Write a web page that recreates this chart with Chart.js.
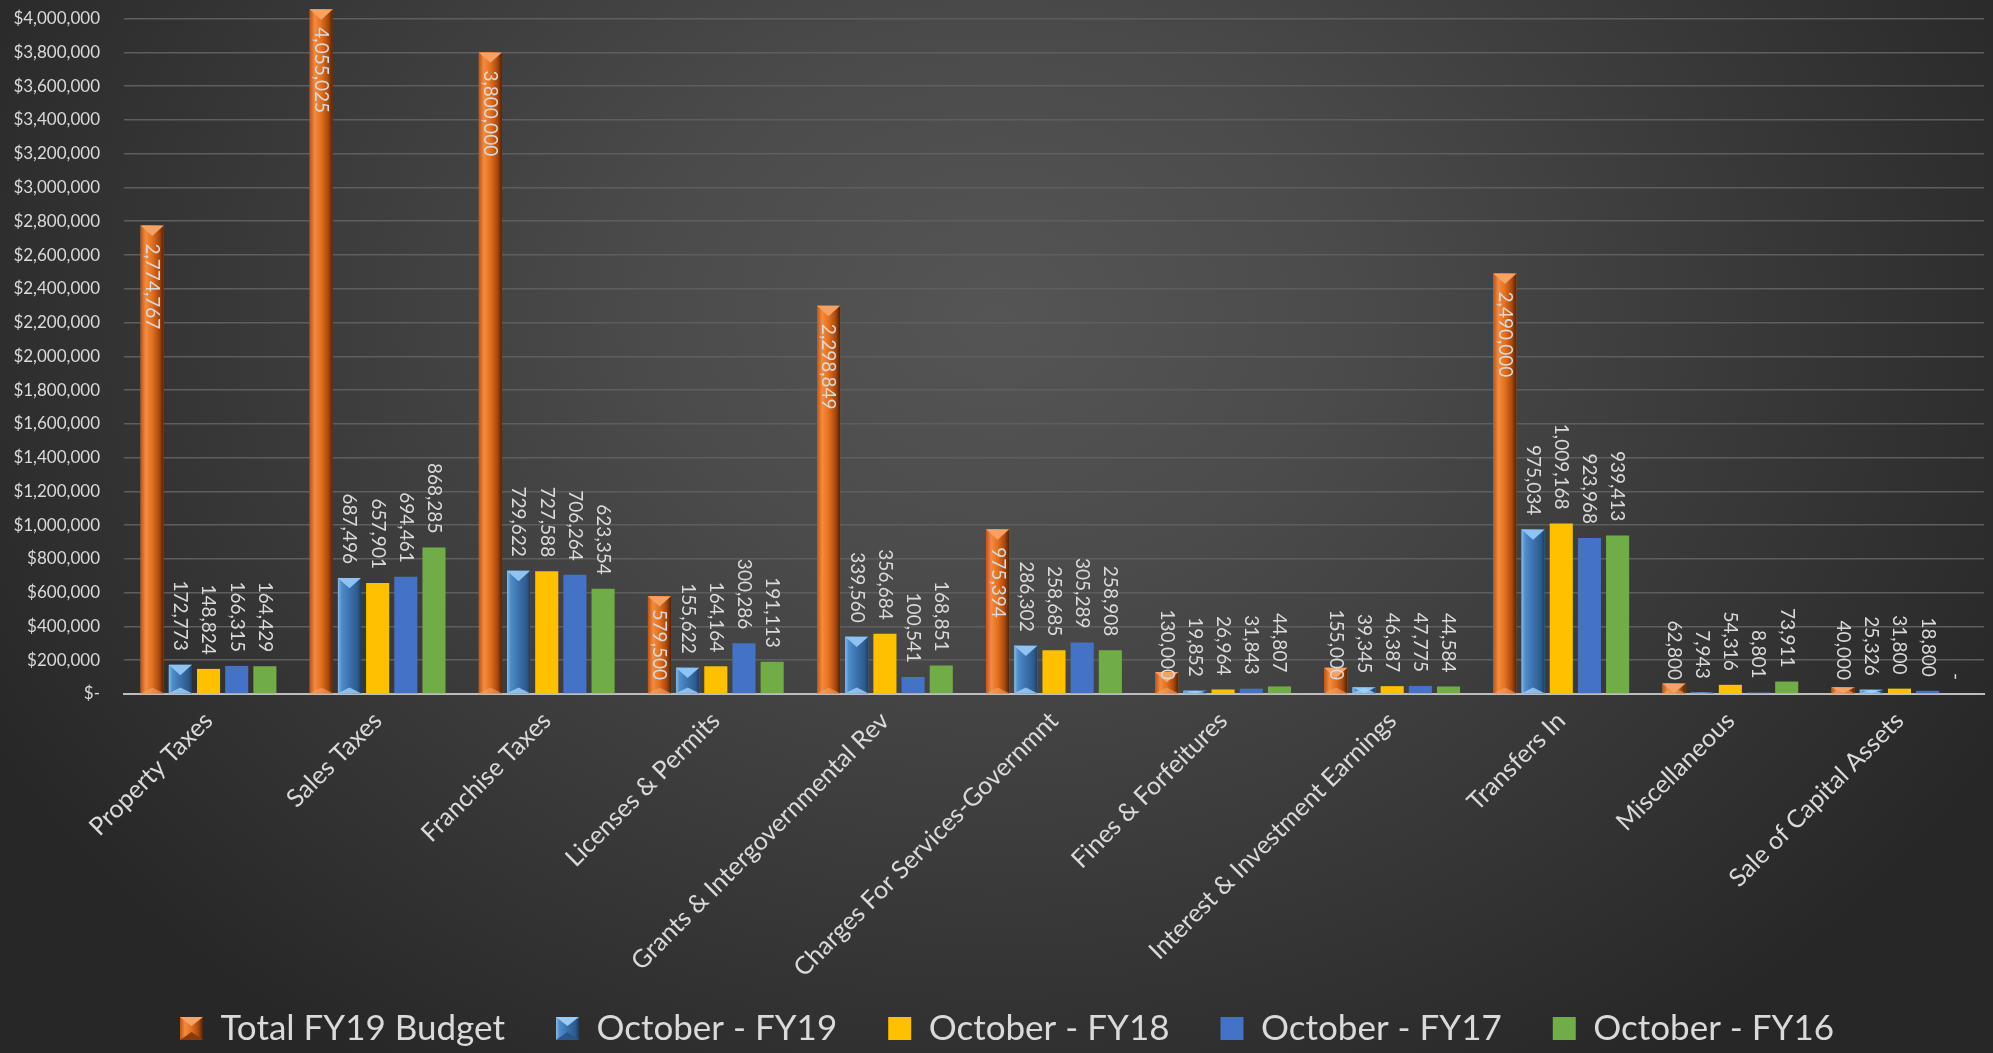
<!DOCTYPE html>
<html>
<head>
<meta charset="utf-8">
<script src="https://cdn.jsdelivr.net/npm/chart.js@4/dist/chart.umd.min.js"></script>
<style>
html, body { margin: 0; padding: 0; }
body {
    width: 1993px; height: 1053px; overflow: hidden;
    background: radial-gradient(ellipse 1150px 900px at 50% 30%, #555555 0%, #4b4b4b 30%, #393939 65%, #272727 100%);
}
#caixa { position: relative; width: 1993px; height: 1053px; }
</style>
</head>
<body>
<div id="caixa"><canvas id="grafico"></canvas></div>
<script>
// categorias e valores
const categorias = [
    'Property Taxes', 'Sales Taxes', 'Franchise Taxes', 'Licenses & Permits',
    'Grants & Intergovernmental Rev', 'Charges For Services-Governmnt', 'Fines & Forfeitures',
    'Interest & Investment Earnings', 'Transfers In', 'Miscellaneous', 'Sale of Capital Assets'
];
const totalFY19 = [2774767, 4055025, 3800000, 579500, 2298849, 975394, 130000, 155000, 2490000, 62800, 40000];
const outubroFY19 = [172773, 687496, 729622, 155622, 339560, 286302, 19852, 39345, 975034, 7943, 25326];
const outubroFY18 = [148824, 657901, 727588, 164164, 356684, 258685, 26964, 46387, 1009168, 54316, 31800];
const outubroFY17 = [166315, 694461, 706264, 300286, 100541, 305289, 31843, 47775, 923968, 8801, 18800];
const outubroFY16 = [164429, 868285, 623354, 191113, 168851, 258908, 44807, 44584, 939413, 73911, 0];

// marcas do eixo y
const ticksY = [0, 200000, 400000, 600000, 800000, 1000000, 1200000, 1400000, 1600000, 1800000, 2000000,
    2200000, 2400000, 2600000, 2800000, 3000000, 3200000, 3400000, 3600000, 3800000, 4000000];

const nomesSeries = ['Total FY19 Budget', 'October - FY19', 'October - FY18', 'October - FY17', 'October - FY16'];
const coresSeries = ['#ED7D31', '#5B9BD5', '#FFC000', '#4472C4', '#70AD47'];

const corTexto = '#dadada';
const fonte = 'Lato, "Open Sans", sans-serif';

// degradês das barras com chanfro
const degradeLaranja = [[0, '#b9561a'], [0.22, '#f38c40'], [0.5, '#e2701f'], [0.8, '#a9490f'], [1, '#4e2207']];
const degradeAzul = [[0, '#86bbea'], [0.15, '#4f8dca'], [0.5, '#3b72ad'], [0.85, '#2d5a8c'], [1, '#1d3c62']];

// icones da legenda para as duas series com chanfro
function criarIcone(paradas, corCima, corBaixo) {
    const c = document.createElement('canvas');
    c.width = 23; c.height = 23;
    const ctx = c.getContext('2d');
    const g = ctx.createLinearGradient(0, 0, 23, 0);
    paradas.forEach(p => g.addColorStop(p[0], p[1]));
    ctx.fillStyle = g;
    ctx.fillRect(0, 0, 23, 23);
    ctx.fillStyle = corCima;
    ctx.beginPath(); ctx.moveTo(0, 0); ctx.lineTo(23, 0); ctx.lineTo(11.5, 9); ctx.closePath(); ctx.fill();
    ctx.fillStyle = corBaixo;
    ctx.beginPath(); ctx.moveTo(0, 23); ctx.lineTo(23, 23); ctx.lineTo(11.5, 15); ctx.closePath(); ctx.fill();
    return c;
}
const iconeLaranja = criarIcone(degradeLaranja, '#f6a465', '#8a3a0c');
const iconeAzul = criarIcone(degradeAzul, '#9ccbf3', '#2b5788');

// sombreado "3D" das duas primeiras series (desenhado sobre as barras do proprio Chart.js)
const chanfro = {
    id: 'chanfro',
    afterDatasetsDraw(chart) {
        const ctx = chart.ctx;
        [0, 1].forEach(i => {
            const meta = chart.getDatasetMeta(i);
            meta.data.forEach(barra => {
                const larg = barra.width;
                const esq = barra.x - larg / 2;
                const dir = barra.x + larg / 2;
                const topo = barra.y;
                const alt = barra.base - barra.y;
                if (alt <= 0) return;
                ctx.save();
                const g = ctx.createLinearGradient(esq, 0, dir, 0);
                (i === 0 ? degradeLaranja : degradeAzul).forEach(p => g.addColorStop(p[0], p[1]));
                ctx.fillStyle = g;
                ctx.fillRect(esq, topo, larg, alt);
                // ponta superior
                const h = Math.min(alt, larg * 0.45);
                ctx.beginPath();
                ctx.moveTo(esq, topo);
                ctx.lineTo(dir, topo);
                ctx.lineTo(barra.x, topo + h);
                ctx.closePath();
                ctx.fillStyle = i === 0 ? '#f5a264' : '#8fc4f2';
                ctx.fill();
                // base clara
                const hb = Math.min(alt, larg * 0.25);
                ctx.beginPath();
                ctx.moveTo(esq, barra.base);
                ctx.lineTo(dir, barra.base);
                ctx.lineTo(barra.x, barra.base - hb);
                ctx.closePath();
                ctx.fillStyle = i === 0 ? 'rgba(245,162,100,0.6)' : 'rgba(160,210,250,0.8)';
                ctx.fill();
                ctx.restore();
            });
        });
    }
};

// rotulos de valor na vertical
const rotulos = {
    id: 'rotulos',
    afterDatasetsDraw(chart) {
        const ctx = chart.ctx;
        const base = chart.scales.y.getPixelForValue(0);
        ctx.save();
        ctx.font = '19px ' + fonte;
        ctx.fillStyle = corTexto;
        ctx.textBaseline = 'middle';
        ctx.textAlign = 'left';
        chart.data.datasets.forEach((ds, i) => {
            const meta = chart.getDatasetMeta(i);
            meta.data.forEach((barra, j) => {
                const v = ds.data[j];
                const txt = v === 0 ? '-' : v.toLocaleString('en-US');
                const w = ctx.measureText(txt).width;
                let inicio;
                if (i === 0) {
                    inicio = Math.min(barra.y + 18, base - 14 - w); // dentro da barra
                } else {
                    inicio = barra.y - 14 - w; // acima da barra
                }
                ctx.save();
                ctx.translate(barra.x, inicio);
                ctx.rotate(Math.PI / 2);
                ctx.fillText(txt, 0, 0);
                ctx.restore();
            });
        });
        ctx.restore();
    }
};

const series = [totalFY19, outubroFY19, outubroFY18, outubroFY17, outubroFY16];

new Chart(document.getElementById('grafico'), {
    type: 'bar',
    data: {
        labels: categorias,
        datasets: series.map((dados, i) => ({
            label: nomesSeries[i],
            data: dados,
            backgroundColor: coresSeries[i],
            borderWidth: 0,
            clip: false,
            barPercentage: 0.82,
            categoryPercentage: 0.833
        }))
    },
    options: {
        responsive: true,
        maintainAspectRatio: false,
        animation: false,
        layout: { padding: { top: 0, right: 9, bottom: 0, left: 30 } },
        plugins: {
            tooltip: { enabled: false },
            legend: {
                position: 'bottom',
                maxHeight: 93,
                labels: {
                    color: corTexto,
                    font: { family: fonte, size: 35 },
                    boxWidth: 23,
                    boxHeight: 23,
                    padding: 51,
                    usePointStyle: true,
                    generateLabels(chart) {
                        const itens = Chart.defaults.plugins.legend.labels.generateLabels(chart);
                        itens.forEach((item, i) => {
                            item.pointStyle = i === 0 ? iconeLaranja : i === 1 ? iconeAzul : 'rect';
                        });
                        return itens;
                    }
                }
            }
        },
        scales: {
            x: {
                grid: { display: false, drawTicks: false },
                border: { display: true, color: '#bdbdbd', width: 2, dash: [2, 2] },
                ticks: {
                    color: corTexto,
                    font: { family: fonte, size: 25 },
                    maxRotation: 45,
                    minRotation: 45,
                    autoSkip: false,
                    padding: 12
                },
                afterFit(escala) {
                    escala.height = 266;
                    escala._computeLabelArea = () => undefined; // rotulos longos passam do eixo
                }
            },
            y: {
                min: 0,
                max: 4050000,
                grid: { color: '#5e5e5e', lineWidth: 1.5, drawTicks: true, tickLength: 24, tickColor: 'rgba(0,0,0,0)' },
                border: { display: false },
                ticks: {
                    color: corTexto,
                    font: { family: fonte, size: 17 },
                    padding: 0,
                    callback: v => v === 0 ? '$-' : '$' + v.toLocaleString('en-US')
                },
                afterBuildTicks(escala) {
                    escala.ticks = ticksY.map(v => ({ value: v }));
                },
                afterFit(escala) {
                    escala.width = 94;
                    escala._computeLabelArea = () => undefined;
                }
            }
        }
    },
    plugins: [chanfro, rotulos]
});
</script>
</body>
</html>
